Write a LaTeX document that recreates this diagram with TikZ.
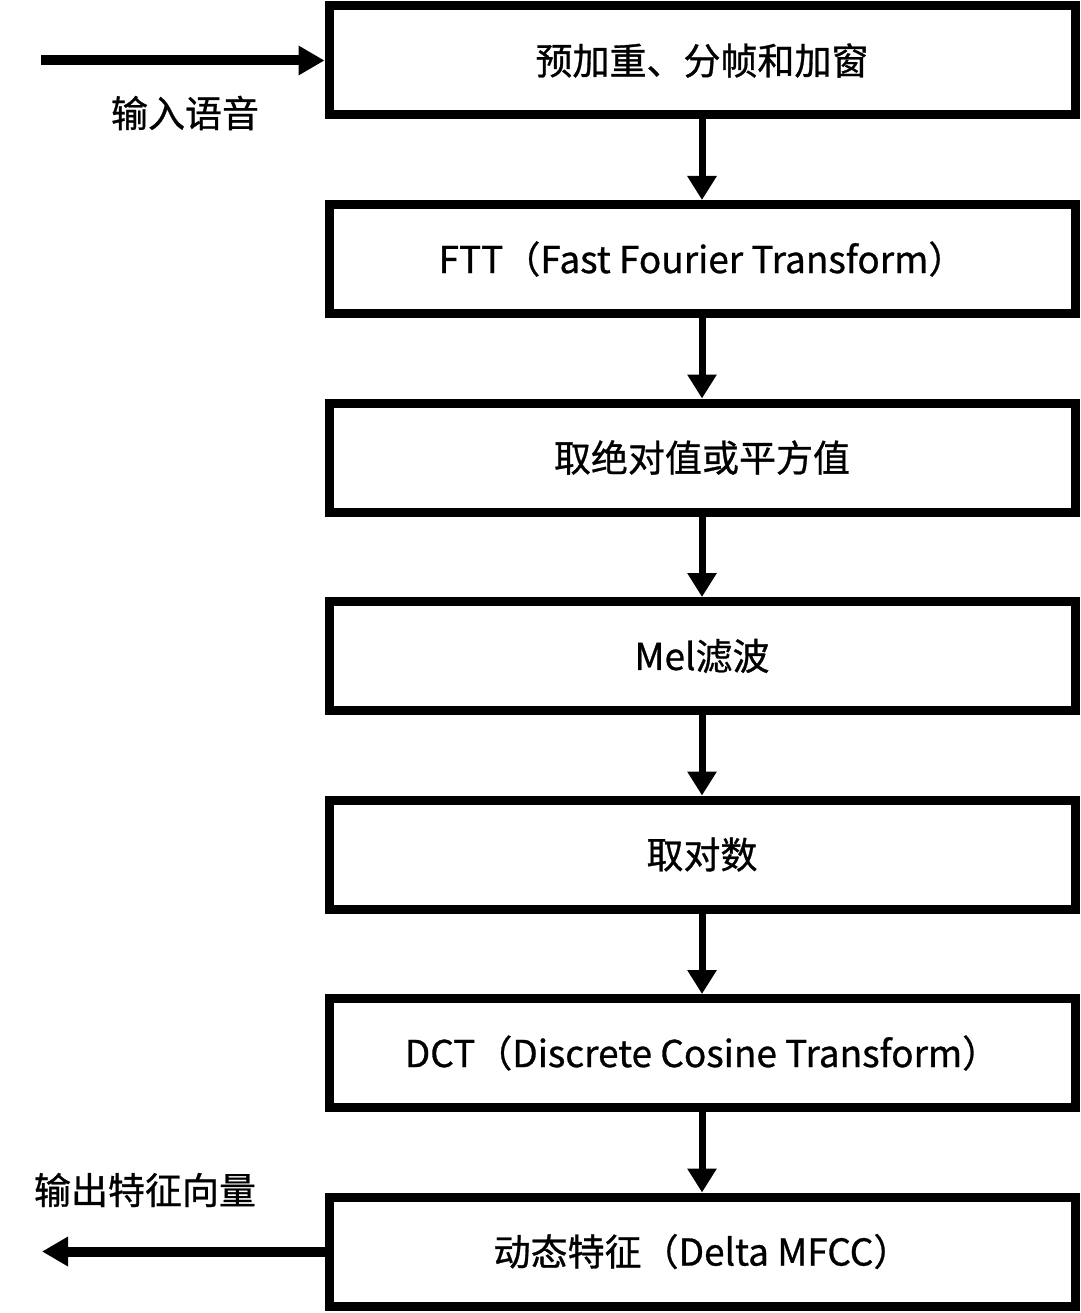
\documentclass[tikz,border=0pt]{standalone}
\usepackage{fontspec}
\setmainfont{Noto Sans CJK SC}[FakeBold=0.8]
\usetikzlibrary{arrows.meta}
\begin{document}
\begin{tikzpicture}[x=1pt,y=-1pt,
  stagebox/.style={draw=black,line width=9pt,minimum width=746pt,minimum height=109pt,inner sep=0pt,font=\fontsize{37}{44}\selectfont},
  flowarrow/.style={line width=7pt,-{Triangle[width=28pt,length=24pt]}},
  ioarrow/.style={line width=10pt,-{Triangle[width=28pt,length=26pt]}},
  lbl/.style={font=\fontsize{37}{44}\selectfont,inner sep=0pt}]
\useasboundingbox (0,0) rectangle (1080,1313);
\node[stagebox] (b1) at (702,60.5) {预加重、分帧和加窗};
\node[stagebox] (b2) at (702,259) {FTT（Fast Fourier Transform）};
\node[stagebox] (b3) at (702,457.5) {取绝对值或平方值};
\node[stagebox] (b4) at (702,656) {Mel滤波};
\node[stagebox] (b5) at (702,854.5) {取对数};
\node[stagebox] (b6) at (702,1053) {DCT（Discrete Cosine Transform）};
\node[stagebox] (b7) at (702,1251.5) {动态特征（Delta MFCC）};
\foreach \a/\b in {b1/b2,b2/b3,b3/b4,b4/b5,b5/b6,b6/b7}
  \draw[flowarrow] (\a.south) -- (\b.north);
\coordinate (in) at (41,60.5);
\coordinate (out) at (42,1251.5);
\draw[ioarrow] (in) -- (b1.west);
\draw[ioarrow] (b7.west) -- (out);
\node[lbl] (inl) at (185,113) {输入语音};
\node[lbl] (outl) at (145,1190) {输出特征向量};
\end{tikzpicture}
\end{document}
